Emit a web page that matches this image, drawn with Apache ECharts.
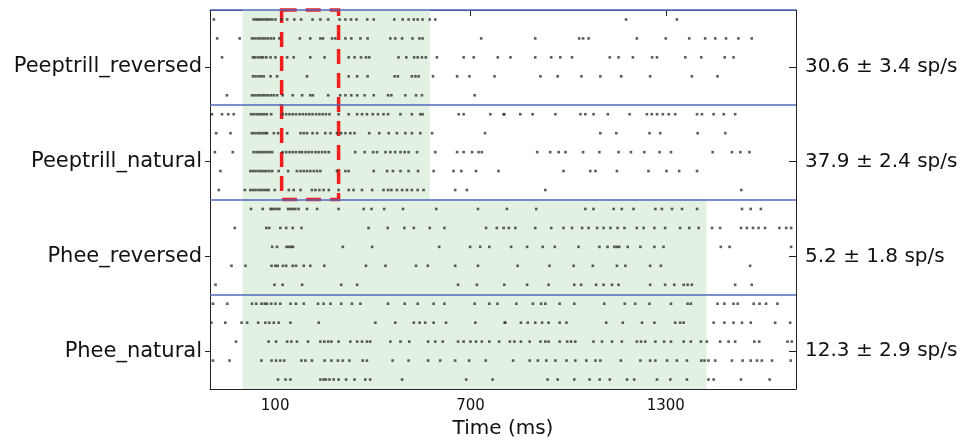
<!DOCTYPE html>
<html>
<head>
<meta charset="utf-8">
<script src="https://cdn.jsdelivr.net/npm/echarts@6/dist/echarts.min.js"></script>
<style>
html,body{margin:0;padding:0;background:#fff;}
#chart{width:967px;height:445px;}
</style>
</head>
<body>
<div id="chart"></div>
<script>
// ---- data ----
const categories = ['Peeptrill_reversed', 'Peeptrill_natural', 'Phee_reversed', 'Phee_natural'];
const rateLabels = ['30.6 ± 3.4 sp/s', '37.9 ± 2.4 sp/s', '5.2 ± 1.8 sp/s', '12.3 ± 2.9 sp/s'];
const timeTicks = [100, 700, 1300];
const stimDuration = [575, 575, 1425, 1425];
const windowMs = [120, 295];

// spike times (ms), one array per trial
const peeptrillReversed = [
  [-88,34,42,48,55,62,70,76,83,91,101,119,137,159,180,215,239,263,298,316,333,350,383,403,466,492,510,526,538,553,575,592,1178,1334],
  [-78,-9,29,37,46,54,62,70,78,87,96,113,176,208,239,247,275,285,316,334,362,384,454,469,490,522,543,553,733,899,1034,1046,1063,1211,1300,1372,1421,1452,1485,1523,1564],
  [-63,32,39,48,56,63,73,86,101,137,157,208,252,326,344,364,379,389,479,503,527,538,551,563,597,679,710,784,823,899,948,976,1012,1128,1155,1199,1258,1273,1360,1409,1481,1508],
  [32,40,49,57,65,86,106,198,326,352,384,467,477,520,531,541,585,659,697,774,915,968,1041,1099,1163,1252,1380,1459],
  [-48,29,37,46,54,62,70,78,87,96,106,123,154,183,208,216,263,300,316,334,352,375,403,447,457,500,533,551,713]
];
const peeptrillNatural = [
  [-94,-63,-44,-27,26,34,43,51,59,67,75,88,123,134,144,154,164,175,185,195,205,215,226,236,246,256,267,295,326,352,367,382,400,416,433,447,485,520,546,553,664,679,761,802,804,853,891,961,1038,1053,1078,1122,1189,1242,1257,1273,1291,1309,1329,1396,1411,1447,1478,1513],
  [-81,-37,29,37,46,54,62,70,75,96,109,137,178,188,198,215,229,254,270,290,303,316,331,344,389,420,449,474,500,520,546,582,745,1099,1148,1250,1283,1398,1483],
  [-85,-30,34,43,51,59,67,75,83,91,123,134,144,154,164,175,183,193,203,213,224,234,244,254,265,346,375,401,413,439,454,469,485,498,510,536,592,659,679,705,725,735,905,945,971,992,1046,1096,1155,1193,1234,1281,1316,1444,1503,1529,1557],
  [-68,24,32,40,49,57,65,73,82,91,111,140,167,178,188,198,208,219,229,239,290,316,326,403,444,462,485,510,539,587,648,672,717,786,986,1068,1084,1150,1247,1302,1341,1396],
  [-73,7,24,32,40,49,57,65,73,80,99,142,157,178,213,224,236,249,265,295,326,341,367,398,433,447,457,474,490,505,520,538,556,653,689,930,1532]
];
const pheeReversed = [
  [26,62,86,91,98,106,113,140,147,154,162,172,198,229,295,372,396,435,493,595,723,812,902,1053,1078,1140,1165,1201,1268,1288,1319,1350,1396,1534,1561,1592],
  [-24,73,82,116,134,154,181,387,446,497,526,575,620,748,781,802,818,838,899,948,986,1012,1043,1063,1089,1109,1130,1152,1173,1211,1232,1265,1298,1344,1372,1401,1442,1467,1531,1549,1568,1585,1605,1649,1670,1685],
  [91,106,135,142,149,155,308,398,604,699,730,758,825,874,922,959,1032,1096,1121,1142,1150,1157,1183,1222,1265,1293,1469,1496,1685],
  [-34,9,89,101,108,124,134,154,164,188,208,251,379,439,533,569,653,723,845,943,1017,1076,1150,1176,1252,1285,1559],
  [-83,98,123,183,303,352,662,720,804,874,940,1019,1040,1086,1109,1135,1155,1252,1298,1326,1355,1367,1380,1513,1564]
];
const pheeNatural = [
  [-91,-47,29,42,58,68,75,88,101,116,147,164,188,232,249,270,303,336,362,447,498,538,587,620,713,758,783,841,892,917,930,974,1019,1111,1174,1206,1250,1316,1367,1377,1459,1480,1508,1521,1570,1588,1608,1643],
  [-96,-53,-3,14,48,70,82,96,111,147,234,408,469,526,544,561,587,625,715,805,807,855,876,899,920,940,974,995,1117,1168,1227,1265,1329,1344,1355,1447,1480,1508,1534,1561,1636,1682],
  [-20,80,103,137,150,167,201,239,251,263,273,295,331,352,367,382,392,454,485,512,570,592,615,662,679,700,717,735,758,788,821,835,855,882,915,930,940,974,997,1009,1022,1078,1104,1135,1165,1211,1224,1237,1268,1295,1316,1355,1377,1408,1426,1467,1493,1513,1572,1587,1674,1687],
  [-91,-40,58,89,103,116,128,181,193,213,252,273,293,308,328,369,382,461,510,570,607,653,696,747,831,882,907,933,961,995,1022,1056,1084,1099,1162,1222,1252,1268,1304,1334,1365,1409,1419,1431,1452,1503,1536,1561,1580,1595,1626,1684],
  [109,132,147,239,249,256,267,280,295,318,344,377,392,490,687,768,937,968,1019,1066,1097,1128,1181,1203,1273,1314,1365,1431,1447,1531,1619]
];

const groups = [peeptrillReversed, peeptrillNatural, pheeReversed, pheeNatural];
const trialsPerGroup = 5;
const totalRows = groups.length * trialsPerGroup;
const labelRows = categories.map((c, g) => g * trialsPerGroup + 3);

// build scatter points from the arrays
const spikes = [];
groups.forEach((g, gi) => {
  g.forEach((trial, ti) => {
    const row = gi * trialsPerGroup + ti + 0.5;
    trial.forEach(t => spikes.push([t, row]));
  });
});

const stimAreas = categories.map((c, gi) => [
  { xAxis: 0, yAxis: gi * trialsPerGroup },
  { xAxis: stimDuration[gi], yAxis: (gi + 1) * trialsPerGroup }
]);
const separators = categories.map((c, gi) => ({ yAxis: gi * trialsPerGroup }));

const FONT = 'DejaVu Sans';
const chart = echarts.init(document.getElementById('chart'), null, { renderer: 'canvas' });

const xCommon = {
  type: 'value', min: -100, max: 1700,
  splitLine: { show: false },
  axisLine: { show: true, onZero: false, lineStyle: { color: '#222', width: 1 } },
  axisTick: { show: true, inside: true, length: 6, customValues: timeTicks, lineStyle: { color: '#222' } }
};
const yCommon = {
  type: 'value', min: 0, max: totalRows, inverse: true,
  splitLine: { show: false },
  axisLine: { show: true, onZero: false, lineStyle: { color: '#222', width: 1 } }
};

chart.setOption({
  animation: false,
  backgroundColor: '#fff',
  grid: { left: 210, right: 171, top: 10, bottom: 56, containLabel: false },
  xAxis: [
    Object.assign({}, xCommon, {
      position: 'bottom',
      name: 'Time (ms)', nameLocation: 'middle', nameGap: 27,
      nameTextStyle: { fontFamily: FONT, fontSize: 20, color: '#111' },
      axisLabel: { show: true, customValues: timeTicks, margin: 10, fontFamily: FONT, fontSize: 15, color: '#111',
                   formatter: v => String(v) }
    }),
    Object.assign({}, xCommon, {
      position: 'top',
      axisLabel: { show: false }
    })
  ],
  yAxis: [
    Object.assign({}, yCommon, {
      position: 'left',
      axisTick: { show: true, inside: false, length: 5, customValues: labelRows, lineStyle: { color: '#222' } },
      axisLabel: {
        show: true, customValues: labelRows, margin: 8,
        fontFamily: FONT, fontSize: 21, color: '#111',
        formatter: v => categories[labelRows.indexOf(v)] || ''
      }
    }),
    Object.assign({}, yCommon, {
      position: 'right',
      axisTick: { show: true, inside: true, length: 7, customValues: labelRows, lineStyle: { color: '#222' } },
      axisLabel: {
        show: true, customValues: labelRows, margin: 9,
        fontFamily: FONT, fontSize: 20, color: '#111',
        formatter: v => rateLabels[labelRows.indexOf(v)] || ''
      }
    })
  ],
  series: [
    {
      type: 'scatter', name: 'stimulus', data: [], z: 1,
      markArea: {
        silent: true,
        itemStyle: { color: '#e3f1e3' },
        data: stimAreas
      }
    },
    {
      type: 'scatter', name: 'spikes', data: spikes, z: 3,
      symbol: 'rect', symbolSize: [2.6, 2.6],
      itemStyle: { color: '#333333' },
      silent: true
    },
    {
      type: 'scatter', name: 'separators', data: [], z: 4,
      markLine: {
        silent: true, symbol: ['none', 'none'],
        label: { show: false },
        lineStyle: { color: '#5068bb', width: 1.5, type: 'solid' },
        data: separators
      }
    },
    {
      type: 'scatter', name: 'window', data: [], z: 5,
      markArea: {
        silent: true,
        itemStyle: { color: 'rgba(0,0,0,0)', borderColor: '#f01e1e', borderWidth: 3.5, borderType: [15, 9] },
        data: [[{ xAxis: windowMs[0], yAxis: 0 }, { xAxis: windowMs[1], yAxis: 2 * trialsPerGroup }]]
      }
    }
  ]
});
</script>
</body>
</html>
